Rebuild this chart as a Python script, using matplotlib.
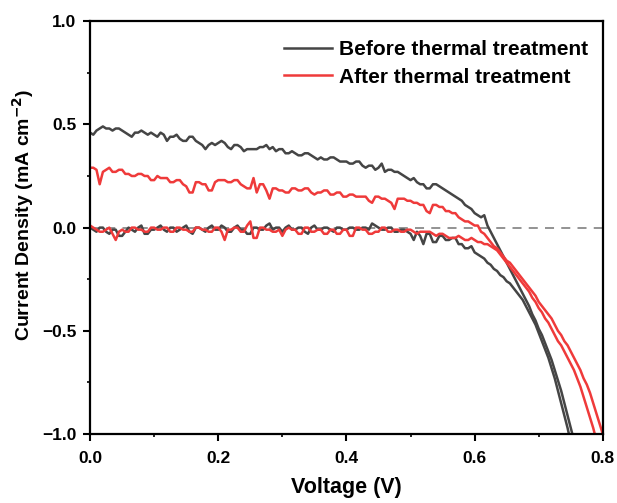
import numpy as np
import matplotlib.pyplot as plt

plt.rcParams['font.family'] = ['Liberation Sans', 'DejaVu Sans']
plt.rcParams['font.weight'] = 'bold'
plt.rcParams['axes.labelweight'] = 'bold'
plt.rcParams['mathtext.default'] = 'bf'

# voltage sweep, 5 mV steps
step = 0.005

# before thermal treatment, illuminated
j_before_light = [
    0.46, 0.45, 0.47, 0.48, 0.49, 0.48, 0.48, 0.47, 0.48, 0.48, 0.47, 0.46, 0.45, 0.44, 0.46, 0.46, 0.47, 0.46, 0.45, 0.46,
    0.45, 0.44, 0.46, 0.45, 0.42, 0.44, 0.44, 0.45, 0.43, 0.42, 0.42, 0.44, 0.44, 0.42, 0.41, 0.40, 0.38, 0.40, 0.41, 0.40,
    0.41, 0.42, 0.41, 0.39, 0.38, 0.40, 0.40, 0.39, 0.37, 0.38, 0.38, 0.38, 0.38, 0.39, 0.39, 0.40, 0.38, 0.39, 0.37, 0.38,
    0.38, 0.36, 0.36, 0.37, 0.36, 0.35, 0.35, 0.36, 0.36, 0.35, 0.34, 0.33, 0.34, 0.33, 0.33, 0.34, 0.34, 0.33, 0.32, 0.32,
    0.32, 0.31, 0.31, 0.32, 0.32, 0.30, 0.29, 0.30, 0.30, 0.28, 0.29, 0.31, 0.27, 0.28, 0.28, 0.27, 0.27, 0.26, 0.25, 0.24,
    0.23, 0.24, 0.22, 0.21, 0.21, 0.19, 0.19, 0.21, 0.21, 0.20, 0.19, 0.18, 0.17, 0.16, 0.15, 0.14, 0.13, 0.11, 0.10, 0.09,
    0.07, 0.06, 0.05, 0.06, 0.01, -0.02, -0.05, -0.08, -0.11, -0.14, -0.17, -0.20, -0.23, -0.26, -0.29, -0.32, -0.35, -0.38, -0.42, -0.45,
    -0.49, -0.52, -0.56, -0.60, -0.64, -0.69, -0.74, -0.79, -0.85, -0.91, -0.97, -1.03, -1.10]

# before thermal treatment, dark
j_before_dark = [
    0.00, -0.01, -0.02, 0.00, 0.00, -0.02, -0.03, -0.01, -0.01, -0.04, -0.04, -0.02, 0.00, -0.01, -0.02, 0.00, 0.01, -0.03, -0.03, -0.01,
    -0.01, 0.00, 0.01, -0.01, -0.02, 0.00, 0.00, -0.02, -0.01, 0.00, 0.01, -0.02, -0.03, 0.00, 0.00, -0.01, -0.02, 0.00, 0.01, -0.01,
    -0.01, 0.01, 0.00, -0.02, -0.02, 0.00, 0.01, -0.01, -0.01, -0.03, -0.03, 0.00, 0.00, -0.01, -0.01, 0.01, 0.02, -0.01, 0.00, 0.00,
    -0.02, 0.00, 0.01, -0.01, -0.01, 0.00, 0.00, -0.02, -0.03, 0.00, 0.01, -0.01, -0.01, 0.00, 0.00, -0.01, -0.02, 0.00, 0.00, -0.01,
    -0.01, 0.00, 0.00, -0.01, -0.01, 0.00, 0.00, -0.01, 0.02, 0.01, 0.00, -0.01, -0.01, 0.00, 0.00, -0.02, -0.02, -0.01, -0.01, -0.02,
    -0.03, -0.06, -0.02, -0.04, -0.08, -0.03, -0.03, -0.07, -0.07, -0.04, -0.04, -0.06, -0.06, -0.05, -0.05, -0.08, -0.08, -0.10, -0.10, -0.09,
    -0.12, -0.13, -0.14, -0.15, -0.17, -0.18, -0.20, -0.21, -0.23, -0.24, -0.26, -0.27, -0.29, -0.31, -0.33, -0.35, -0.38, -0.41, -0.44, -0.47,
    -0.51, -0.55, -0.59, -0.63, -0.68, -0.73, -0.79, -0.85, -0.91, -0.97, -1.04]

# after thermal treatment, illuminated
j_after_light = [
    0.29, 0.29, 0.28, 0.21, 0.27, 0.28, 0.29, 0.27, 0.27, 0.28, 0.28, 0.26, 0.26, 0.25, 0.25, 0.26, 0.26, 0.25, 0.25, 0.23,
    0.23, 0.25, 0.24, 0.24, 0.24, 0.22, 0.22, 0.23, 0.23, 0.21, 0.20, 0.17, 0.17, 0.22, 0.22, 0.21, 0.21, 0.18, 0.18, 0.22,
    0.23, 0.23, 0.23, 0.22, 0.22, 0.23, 0.23, 0.21, 0.20, 0.19, 0.19, 0.24, 0.17, 0.21, 0.21, 0.18, 0.14, 0.19, 0.19, 0.18,
    0.18, 0.17, 0.17, 0.19, 0.19, 0.18, 0.18, 0.19, 0.19, 0.17, 0.16, 0.17, 0.17, 0.18, 0.18, 0.16, 0.16, 0.17, 0.17, 0.15,
    0.15, 0.16, 0.16, 0.15, 0.15, 0.15, 0.15, 0.13, 0.12, 0.15, 0.15, 0.14, 0.14, 0.13, 0.12, 0.09, 0.14, 0.14, 0.14, 0.13,
    0.13, 0.12, 0.12, 0.11, 0.11, 0.08, 0.07, 0.11, 0.11, 0.10, 0.10, 0.08, 0.08, 0.07, 0.07, 0.05, 0.04, 0.03, 0.03, 0.02,
    0.01, 0.01, -0.02, -0.03, -0.05, -0.07, -0.09, -0.10, -0.12, -0.14, -0.16, -0.17, -0.19, -0.21, -0.23, -0.25, -0.27, -0.29, -0.31, -0.33,
    -0.36, -0.38, -0.40, -0.42, -0.44, -0.47, -0.50, -0.52, -0.55, -0.57, -0.60, -0.63, -0.66, -0.69, -0.73, -0.76, -0.80, -0.85, -0.90, -0.95,
    -1.00]

# after thermal treatment, dark
j_after_dark = [
    0.01, 0.00, -0.01, -0.02, -0.02, -0.01, 0.00, -0.03, -0.06, -0.02, -0.01, -0.02, -0.02, 0.00, 0.00, -0.01, -0.01, -0.02, -0.02, 0.00,
    0.00, -0.01, -0.01, 0.00, 0.00, -0.02, -0.02, 0.00, 0.00, -0.01, -0.01, -0.02, -0.02, 0.00, 0.00, -0.01, -0.01, -0.02, -0.02, 0.00,
    0.00, -0.02, -0.06, -0.01, -0.01, 0.00, 0.00, -0.02, -0.02, 0.01, 0.03, -0.05, -0.05, 0.00, 0.00, -0.01, -0.01, -0.02, -0.02, -0.01,
    -0.04, -0.01, 0.00, -0.01, -0.01, -0.03, -0.03, 0.00, 0.00, -0.02, -0.02, -0.01, -0.01, -0.03, -0.03, -0.01, -0.01, -0.03, -0.03, -0.01,
    -0.01, -0.04, -0.04, 0.00, 0.00, -0.01, -0.01, -0.03, -0.03, -0.02, -0.02, 0.00, 0.00, -0.02, -0.02, -0.01, -0.01, -0.02, -0.02, -0.01,
    -0.01, -0.02, -0.03, -0.02, -0.02, -0.02, -0.02, -0.03, -0.04, -0.03, -0.03, -0.04, -0.05, -0.05, -0.05, -0.04, -0.05, -0.06, -0.06, -0.05,
    -0.06, -0.07, -0.07, -0.08, -0.08, -0.09, -0.10, -0.11, -0.13, -0.15, -0.17, -0.19, -0.21, -0.23, -0.25, -0.27, -0.29, -0.31, -0.34, -0.36,
    -0.39, -0.41, -0.44, -0.46, -0.49, -0.52, -0.55, -0.57, -0.60, -0.63, -0.66, -0.69, -0.73, -0.77, -0.82, -0.87, -0.92, -0.97, -1.03]

gray = '#454545'
red = '#ef3a3a'

fig = plt.figure(figsize=(6.17, 5.03), dpi=100)
ax = fig.add_axes([0.146, 0.137, 0.831, 0.821])

ax.axhline(0, color='#8a8a8a', lw=1.3, ls=(0, (5, 4)), zorder=1)

def volts(j):
    return np.arange(len(j)) * step

ax.plot(volts(j_before_light), j_before_light, color=gray, lw=1.8,
        label='Before thermal treatment')
ax.plot(volts(j_before_dark), j_before_dark, color=gray, lw=1.8)
ax.plot(volts(j_after_light), j_after_light, color=red, lw=1.8,
        label='After thermal treatment')
ax.plot(volts(j_after_dark), j_after_dark, color=red, lw=1.8)

ax.set_xlim(0, 0.8)
ax.set_ylim(-1.0, 1.0)

ax.set_xticks(np.arange(0, 0.81, 0.2))
ax.set_xticks(np.arange(0, 0.81, 0.1), minor=True)
ax.set_yticks(np.arange(-1.0, 1.01, 0.5))
ax.set_yticks(np.arange(-1.0, 1.01, 0.25), minor=True)
ax.tick_params(which='major', direction='out', length=5, width=1.5,
               labelsize=12.5, pad=5)
ax.tick_params(axis='x', which='major', pad=7)
ax.tick_params(which='minor', direction='out', length=2.5, width=1.2)
for s in ax.spines.values():
    s.set_linewidth(1.6)

ax.set_xlabel('Voltage (V)', fontsize=15.5, labelpad=8)
ax.set_ylabel('Current Density (mA cm$^{-2}$)', fontsize=14)
ax.yaxis.set_label_coords(-0.105, 0.53)

ax.legend(loc='upper right', frameon=False, fontsize=15, handlelength=2.3,
          handletextpad=0.3, labelspacing=0.42, borderaxespad=0.2,
          bbox_to_anchor=(0.995, 0.985))

fig.savefig('out.png', dpi=100)
